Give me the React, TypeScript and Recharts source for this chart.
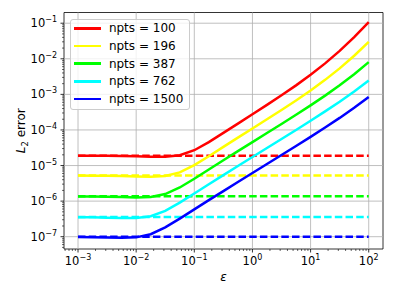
import React from 'react';
import { LineChart, Line, XAxis, YAxis, ReferenceLine, ReferenceArea, Legend } from 'recharts';

// sample points in epsilon (log spaced, quarter decades)
const epsValues = [
  1e-3, 1.778e-3, 3.162e-3, 5.623e-3, 1e-2, 1.778e-2, 3.162e-2, 5.623e-2, 1e-1, 1.778e-1, 3.162e-1,
  5.623e-1, 1, 1.778, 3.162, 5.623, 10, 17.78, 31.62, 56.23, 100,
];

const npts = [100, 196, 387, 762, 1500];
const colors = ['#ff0000', '#ffff00', '#00ff00', '#00ffff', '#0000ff'];

const err100 = [
  1.89e-5, 1.882e-5, 1.869e-5, 1.848e-5, 1.815e-5, 1.775e-5, 1.768e-5, 1.949e-5, 2.693e-5, 4.557e-5,
  8.257e-5, 1.51e-4, 2.765e-4, 5.075e-4, 9.43e-4, 1.792e-3, 3.543e-3, 7.42e-3, 1.67e-2, 4.08e-2, 1.075e-1,
];
const err196 = [
  5.21e-6, 5.18e-6, 5.13e-6, 5.051e-6, 4.944e-6, 4.867e-6, 5.096e-6, 6.435e-6, 1.026e-5, 1.825e-5,
  3.338e-5, 6.066e-5, 1.1e-4, 1.997e-4, 3.65e-4, 6.76e-4, 1.29e-3, 2.556e-3, 5.38e-3, 1.218e-2, 3.0e-2,
];
const err387 = [
  1.354e-6, 1.342e-6, 1.323e-6, 1.296e-6, 1.271e-6, 1.305e-6, 1.575e-6, 2.417e-6, 4.251e-6, 7.721e-6,
  1.403e-5, 2.533e-5, 4.553e-5, 8.19e-5, 1.475e-4, 2.68e-4, 4.92e-4, 9.23e-4, 1.795e-3, 3.67e-3, 8.07e-3,
];
const err762 = [
  3.538e-7, 3.496e-7, 3.432e-7, 3.358e-7, 3.36e-7, 3.766e-7, 5.326e-7, 9.068e-7, 1.639e-6, 2.978e-6,
  5.383e-6, 9.67e-6, 1.734e-5, 3.1e-5, 5.56e-5, 1.0e-4, 1.811e-4, 3.32e-4, 6.21e-4, 1.203e-3, 2.45e-3,
];
const err1500 = [
  9.785e-8, 9.642e-8, 9.443e-8, 9.274e-8, 9.581e-8, 1.175e-7, 1.828e-7, 3.231e-7, 5.869e-7, 1.063e-6,
  1.916e-6, 3.44e-6, 6.155e-6, 1.1e-5, 1.97e-5, 3.543e-5, 6.4e-5, 1.17e-4, 2.18e-4, 4.2e-4, 8.47e-4,
];
const seriesErrors = [err100, err196, err387, err762, err1500];

// dashed reference levels (small-epsilon limit)
const baseEps = [1e-3, 1e2];
const baseErrors = [1.88e-5, 5.22e-6, 1.36e-6, 3.56e-7, 9.9e-8];

const xMajor = [1e-3, 1e-2, 1e-1, 1, 10, 100];
const yMajor = [1e-7, 1e-6, 1e-5, 1e-4, 1e-3, 1e-2, 1e-1];
const xDomain: [number, number] = [5.74e-4, 176];
const yDomain: [number, number] = [4.51e-8, 0.2];

const FONT = '"DejaVu Sans", sans-serif';
const LW = 2.5;

const withMinor = (lo: number, hi: number) => {
  const out: number[] = [];
  for (let e = Math.floor(Math.log10(lo)); e <= Math.ceil(Math.log10(hi)); e++) {
    for (let m = 1; m < 10; m++) {
      const v = m * Math.pow(10, e);
      if (v >= lo && v <= hi) out.push(v);
    }
  }
  return out;
};
const xTicks = withMinor(xDomain[0], xDomain[1]);
const yTicks = withMinor(yDomain[0], yDomain[1] * 0.99);

const isMajor = (v: number) => {
  const e = Math.log10(v);
  return Math.abs(e - Math.round(e)) < 1e-6;
};
const expText = (v: number) => {
  const e = Math.round(Math.log10(v));
  return e < 0 ? '\u2212' + Math.abs(e) : String(e);
};

const XTick = ({ x, y, payload }: any) => {
  const major = isMajor(payload.value);
  return (
    <g>
      <line x1={x} x2={x} y1={y} y2={y + (major ? 3.5 : 2)} stroke="#000" strokeWidth={major ? 0.8 : 0.6} />
      {major && (
        <text x={x} y={y + 16} textAnchor="middle" fontSize={11.5} fontFamily={FONT} fill="#000">
          10<tspan dy={-5} fontSize={8}>{expText(payload.value)}</tspan>
        </text>
      )}
    </g>
  );
};

const YTick = ({ x, y, payload }: any) => {
  const major = isMajor(payload.value);
  return (
    <g>
      <line x1={x - (major ? 3.5 : 2)} x2={x} y1={y} y2={y} stroke="#000" strokeWidth={major ? 0.8 : 0.6} />
      {major && (
        <text x={x - 7} y={y + 4} textAnchor="end" fontSize={11.5} fontFamily={FONT} fill="#000">
          10<tspan dy={-5} fontSize={8}>{expText(payload.value)}</tspan>
        </text>
      )}
    </g>
  );
};

const YLabel = ({ viewBox }: any) => {
  const cy = viewBox.y + viewBox.height / 2;
  return (
    <text transform={`translate(25, ${cy}) rotate(-90)`} textAnchor="middle" fontSize={12} fontFamily={FONT} fill="#000">
      <tspan fontStyle="italic">L</tspan>
      <tspan dy={3} fontSize={8.5}>2</tspan>
      <tspan dy={-3}> error</tspan>
    </text>
  );
};

const XLabel = ({ viewBox }: any) => (
  <text x={viewBox.x + viewBox.width / 2} y={281} textAnchor="middle" fontSize={12} fontStyle="italic" fontFamily={FONT} fill="#000">
    ε
  </text>
);

const renderLegend = () => (
  <div
    style={{
      boxSizing: 'border-box',
      width: 119.5,
      height: 91.5,
      border: '1px solid #cccccc',
      borderRadius: 3,
      background: 'rgba(255,255,255,0.8)',
      padding: '0 0 0 2.5px',
      fontFamily: FONT,
      fontSize: 12,
      color: '#000',
    }}
  >
    {npts.map((n, i) => (
      <div key={n} style={{ display: 'flex', alignItems: 'center', height: 17.6, whiteSpace: 'nowrap' }}>
        <span style={{ display: 'inline-block', width: 27, height: LW, background: colors[i], marginRight: 8.4 }} />
        <span>npts = {n}</span>
      </div>
    ))}
  </div>
);

export default function App() {
  const solid = seriesErrors.map(errs => epsValues.map((eps, j) => ({ eps, err: errs[j] })));
  const dashed = baseErrors.map(b => baseEps.map(eps => ({ eps, err: b })));

  return (
    <div style={{ position: 'absolute', left: 0, top: 0, width: 396, height: 297, background: '#fff' }}>
      <LineChart width={396} height={297} margin={{ top: 12.5, right: 13, left: 10, bottom: 20 }}>
        <XAxis
          dataKey="eps"
          type="number"
          scale="log"
          domain={xDomain}
          allowDataOverflow
          ticks={xTicks}
          interval={0}
          tick={<XTick />}
          tickLine={false}
          axisLine={false}
          tickSize={0}
          tickMargin={0}
          height={28}
          label={<XLabel />}
        />
        <YAxis
          dataKey="err"
          type="number"
          scale="log"
          domain={yDomain}
          allowDataOverflow
          ticks={yTicks}
          interval={0}
          tick={<YTick />}
          tickLine={false}
          axisLine={false}
          tickSize={0}
          tickMargin={0}
          width={54}
          label={<YLabel />}
        />
        {xMajor.map(v => (
          <ReferenceLine key={'gx' + v} x={v} stroke="#b0b0b0" strokeWidth={0.8} />
        ))}
        {yMajor.map(v => (
          <ReferenceLine key={'gy' + v} y={v} stroke="#b0b0b0" strokeWidth={0.8} />
        ))}
        {dashed.map((d, i) => (
          <Line
            key={'d' + i}
            data={d}
            dataKey="err"
            stroke={colors[i]}
            strokeWidth={LW}
            strokeDasharray="7.5 3.2"
            dot={false}
            legendType="none"
            isAnimationActive={false}
          />
        ))}
        {solid.map((d, i) => (
          <Line
            key={'s' + i}
            data={d}
            dataKey="err"
            name={`npts = ${npts[i]}`}
            stroke={colors[i]}
            strokeWidth={LW}
            dot={false}
            isAnimationActive={false}
          />
        ))}
        <ReferenceArea
          x1={xDomain[0]}
          x2={xDomain[1]}
          y1={yDomain[0]}
          y2={yDomain[1]}
          fill="none"
          stroke="#000"
          strokeWidth={0.8}
          ifOverflow="extendDomain"
        />
        <Legend
          layout="vertical"
          align="center"
          verticalAlign="middle"
          wrapperStyle={{ left: 70, top: 18.7 }}
          content={renderLegend}
        />
      </LineChart>
    </div>
  );
}
